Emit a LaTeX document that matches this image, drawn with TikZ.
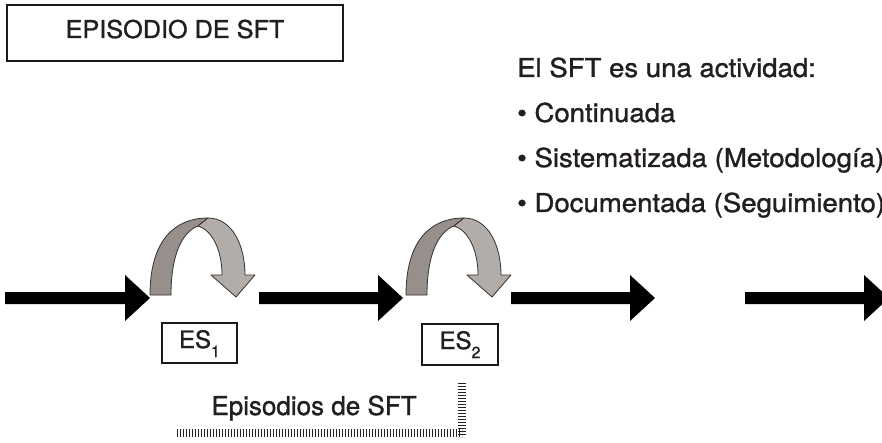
\documentclass[tikz,border=0pt]{standalone}
\usepackage{fontspec}
\setmainfont{TeX Gyre Heros}[FakeBold=1.2]
\definecolor{txtC}{RGB}{35,31,32}
\definecolor{boxC}{RGB}{26,26,26}
\definecolor{bandA}{RGB}{151,143,139}
\definecolor{bandB}{RGB}{178,173,169}
\definecolor{edgeC}{RGB}{50,50,50}
\tikzset{
  blk/.style={fill=black},
  bandDark/.style={fill=bandA, draw=edgeC, line width=0.8pt, line join=round},
  bandLight/.style={fill=bandB, draw=edgeC, line width=0.8pt, line join=round},
  labelbox/.style={draw=boxC, line width=2.4pt, inner sep=0pt, text=txtC},
  txt/.style={text=txtC, inner sep=0pt},
  rtxt/.style={txt, anchor=base west, font=\fontsize{26}{32}\selectfont},
  hatch/.style={draw=txtC, line width=8pt, dash pattern=on 1.3pt off 1.7pt},
}
\newcommand\Wide[1]{\scalebox{1.06}[1]{#1}}
\newcommand\BlkArrow[2]{%
  \fill[blk] (#1,292) -- (#2-25,292) -- (#2-25,275) -- (#2,298) -- (#2-25,321) -- (#2-25,304) -- (#1,304) -- cycle;}
\newcommand\CurlArrow[1]{%
  \begin{scope}[xshift=#1pt]
    \path[bandDark] (150,295) .. controls (150,240) and (175,218) .. (208,218) -- (198,226)
      .. controls (182,232) and (171,255) .. (171,295) -- cycle;
    \path[bandLight] (208,218) .. controls (232,218) and (245,245) .. (245,275) -- (255,275)
      -- (236,297) -- (211,275) -- (222,275) .. controls (222,250) and (212,230) .. (198,226) -- cycle;
  \end{scope}}
\begin{document}
\begin{tikzpicture}[x=1pt,y=-1pt]
\useasboundingbox (0,0) rectangle (882,443);
\clip (0,0) rectangle (882,443);
\fill[white] (0,0) rectangle (882,443);

% title box
\node[labelbox, minimum width=336pt, text height=33pt, text depth=23pt,
      font=\fontsize{24.5}{30}\selectfont] (title) at (175,33) {\scalebox{1.03}[1]{EPISODIO DE SFT}};

% right text (cut off at the right edge, as in the reference)
\node[rtxt] (intro) at (517,77) {\Wide{El SFT es una actividad:}};
\node[rtxt] (b1) at (517,122) {\Wide{• Continuada}};
\node[rtxt] (b2) at (517,167) {\Wide{• Sistematizada (Metodología)}};
\node[rtxt] (b3) at (517,212) {\Wide{• Documentada (Seguimiento)}};

% curled arrows
\CurlArrow{0}
\CurlArrow{256}

% black arrows
\BlkArrow{5}{150}
\BlkArrow{259}{403}
\BlkArrow{511}{655}
\BlkArrow{745}{889}

% ES boxes
\node[labelbox, minimum width=75pt, text height=25pt, text depth=15pt,
      font=\fontsize{24}{30}\selectfont] (es1) at (199.5,343)
      {ES\raisebox{-9pt}{\fontsize{16}{16}\selectfont 1}};
\node[labelbox, minimum width=76pt, text height=25pt, text depth=16pt,
      font=\fontsize{24}{30}\selectfont] (es2) at (460,344.5)
      {ES\raisebox{-9pt}{\fontsize{16}{16}\selectfont 2}};

% episodes label and hatched bracket
\node[txt, anchor=base, font=\fontsize{26}{32}\selectfont] (eps) at (314,415) {Episodios de SFT};
\coordinate (hL) at (177,433);
\coordinate (hC) at (462,433);
\coordinate (hT) at (462,383);
\coordinate (hB) at (462,437);
\draw[hatch] (hL) -- (hC);
\draw[hatch] (hT) -- (hB);
\end{tikzpicture}
\end{document}
